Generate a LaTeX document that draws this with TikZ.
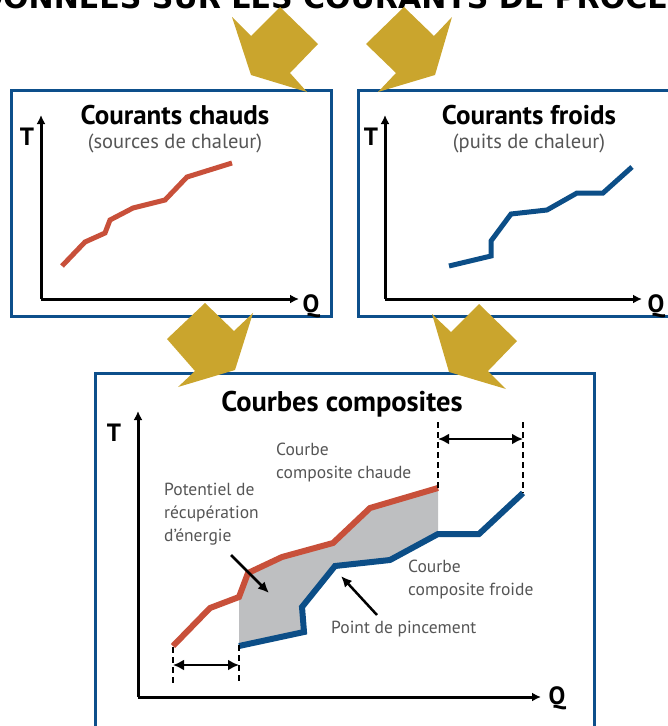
\documentclass[tikz,border=0pt]{standalone}
\usepackage{fontspec}
\setmainfont{PT Sans}
\newfontfamily\headfont{DejaVu Sans}
\usetikzlibrary{arrows.meta}
\definecolor{hotred}{HTML}{C8503A}
\definecolor{coldblue}{HTML}{0C4E87}
\definecolor{boxblue}{HTML}{0D4F8B}
\definecolor{gold}{HTML}{CAA52D}
\definecolor{fillgray}{HTML}{BEBFC1}
\definecolor{txtgray}{HTML}{555555}
\tikzset{
  panel/.style={draw=boxblue, line width=3pt},
  goldarrow/.style={fill=gold, draw=none},
  axis/.style={line width=3pt, -{Latex[length=9pt,width=9pt]}},
  axlabel/.style={font=\fontsize{25}{25}\selectfont\bfseries, inner sep=0pt},
  paneltitle/.style={font=\fontsize{27}{27}\selectfont\bfseries, inner sep=0pt},
  panelsub/.style={font=\fontsize{20.5}{20.5}\selectfont, text=txtgray, inner sep=0pt},
  hotcurve/.style={draw=hotred, line width=5pt},
  coldcurve/.style={draw=coldblue, line width=5pt},
  hotcomp/.style={draw=hotred, line width=6pt},
  coldcomp/.style={draw=coldblue, line width=6pt},
  glabel/.style={font=\fontsize{17.5}{23}\selectfont, text=txtgray, inner sep=0pt, align=left, anchor=north west},
  pointer/.style={line width=2.5pt, -{Latex[length=11pt,width=10pt]}},
  dimarrow/.style={line width=2.5pt, {Latex[length=11pt,width=11pt]}-{Latex[length=11pt,width=11pt]}},
  guide/.style={line width=1.8pt, dash pattern=on 6pt off 4pt},
}
\begin{document}
\begin{tikzpicture}[x=1pt,y=-1pt]
\useasboundingbox (0,0) rectangle (668,726);
\clip (0,0) rectangle (668,726);
% top title (cut off)
\node[font=\headfont\fontsize{30}{30}\selectfont\bfseries, anchor=base, inner sep=0pt] (title) at (344,8) {DONNÉES SUR LES COURANTS DE PROCESS};
% panels
\draw[panel] (11.5,90.5) rectangle (331.5,316.5);
\draw[panel] (358.5,90.5) rectangle (672,316.5);
\draw[panel] (95,373) rectangle (594,732);
% panel 1: hot streams
\node[paneltitle] (t1) at (175,115) {Courants chauds};
\node[panelsub] (s1) at (175,143) {(sources de chaleur)};
\coordinate (o1) at (41,299);
\draw[axis] (o1) -- (41,115);
\draw[axis] (o1) -- (299,299);
\node[axlabel] (T1) at (27,137) {T};
\node[axlabel] (Q1) at (311,306) {Q};
\draw[hotcurve] (62,266) -- (85,242) -- (105,233) -- (110,220) -- (133,208) -- (165,200) -- (187,177) -- (232,163);
% panel 2: cold streams
\node[paneltitle] (t2) at (529,115) {Courants froids};
\node[panelsub] (s2) at (529,143) {(puits de chaleur)};
\coordinate (o2) at (385,299);
\draw[axis] (o2) -- (385,115);
\draw[axis] (o2) -- (642,299);
\node[axlabel] (T2) at (371,137) {T};
\node[axlabel] (Q2) at (656,306) {Q};
\draw[coldcurve] (449,266) -- (491,256) -- (491,241) -- (511,214) -- (547,210) -- (577,193) -- (603,193) -- (632,167);
% panel 3: composite curves
\node[paneltitle, font=\fontsize{28.5}{28.5}\selectfont\bfseries] (t3) at (342,404) {Courbes composites};
\coordinate (o3) at (138,697);
\draw[axis] (o3) -- (138,411);
\draw[axis] (o3) -- (541,697);
\node[axlabel] (T3) at (114,433) {T};
\node[axlabel] (Q3) at (557,698) {Q};
\fill[fillgray] (239,597) -- (248,573) -- (282,557) -- (333,543) -- (370,508) -- (438,488)
   -- (438,534) -- (390,560) -- (335,566) -- (302,607) -- (304,632) -- (239,646) -- cycle;
\draw[hotcomp] (173,646) -- (210,608) -- (239,597) -- (248,573) -- (282,557) -- (333,543) -- (370,508) -- (438,488);
\draw[coldcomp] (239,646) -- (304,632) -- (302,607) -- (335,566) -- (390,560) -- (438,534) -- (479,534) -- (523,493);
% dashed guides and dimension arrows
\coordinate (g1a) at (173,647); \coordinate (g1b) at (173,684);
\coordinate (g2a) at (239,645); \coordinate (g2b) at (239,684);
\draw[guide] (g1a) -- (g1b);
\draw[guide] (g2a) -- (g2b);
\coordinate (d1l) at (173,665); \coordinate (d1r) at (239,665);
\draw[dimarrow] (d1l) -- (d1r);
\coordinate (g3a) at (438,422); \coordinate (g3b) at (438,488);
\coordinate (g4a) at (523,422); \coordinate (g4b) at (523,493);
\draw[guide] (g3a) -- (g3b);
\draw[guide] (g4a) -- (g4b);
\coordinate (d2l) at (438,439); \coordinate (d2r) at (523,439);
\draw[dimarrow] (d2l) -- (d2r);
% labels
\node[glabel] (hc) at (276,443) {Courbe\\composite chaude};
\node[glabel] (pot) at (164,483) {Potentiel de\\récupération\\d’énergie};
\node[glabel] (cc) at (408,560) {Courbe\\composite froide};
\node[glabel] (pp) at (331,621) {Point de pincement};
\coordinate (potA) at (231,555); \coordinate (potB) at (269,593);
\draw[pointer] (potA) -- (potB);
\coordinate (ppA) at (377,615); \coordinate (ppB) at (341,576);
\draw[pointer] (ppA) -- (ppB);
% gold arrows
\fill[goldarrow] (232,17) -- (251,36) -- (280,7) -- (318,44) -- (290,73) -- (307,92) -- (251,75) -- cycle;
\fill[goldarrow] (452,17) -- (434,36) -- (404,7) -- (366,44) -- (396,73) -- (378,92) -- (435,75) -- cycle;
\fill[goldarrow] (205,303) -- (234,331) -- (253,313) -- (235,370) -- (178,387) -- (195,371) -- (167,339) -- cycle;
\fill[goldarrow] (479,304) -- (517,341) -- (488,371) -- (506,389) -- (449,372) -- (432,314) -- (451,332) -- cycle;
\end{tikzpicture}
\end{document}
